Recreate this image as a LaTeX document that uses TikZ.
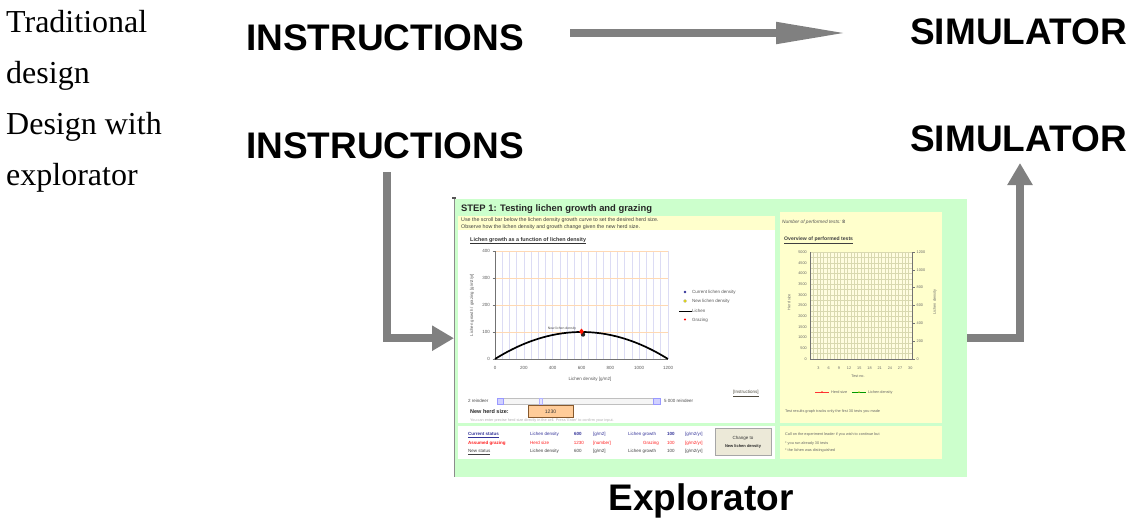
\documentclass[tikz,border=0pt]{standalone}
\usepackage{fontspec}
\setmainfont{Liberation Serif}
\newfontfamily\arial{Liberation Sans}
\usetikzlibrary{arrows.meta}
\definecolor{arrowgray}{HTML}{808080}
\definecolor{scrgreen}{HTML}{CCFFCC}
\definecolor{scryellow}{HTML}{FFFFCC}
\definecolor{gridlav}{HTML}{DCDCF4}
\definecolor{gridor}{HTML}{FFD9B3}
\definecolor{gridyel}{HTML}{D9D9B0}
\definecolor{stblue}{HTML}{333399}
\definecolor{stred}{HTML}{FF2020}
\definecolor{txtgray}{HTML}{555555}
\definecolor{btnfill}{HTML}{ECE9D8}
\definecolor{herdbox}{HTML}{FFCC99}
\tikzset{
  sidelabel/.style={anchor=base west, inner sep=0pt, font=\fontsize{32}{38}\selectfont},
  biglabel/.style={inner sep=0pt, font=\arial\bfseries\fontsize{37}{44}\selectfont},
  bigarrow/.style={draw=arrowgray, line width=8pt, line join=miter, line cap=butt,
     -{Triangle[length=22pt,width=24pt]}},
  toparrow/.style={draw=arrowgray, line width=8pt, line cap=butt,
     -{Triangle[length=72pt,width=20pt]}},
  ui/.style={inner sep=0pt, anchor=base west, font=\arial\fontsize{4.5}{5}\selectfont},
  uir/.style={inner sep=0pt, anchor=base east, font=\arial\fontsize{4.5}{5}\selectfont},
  uic/.style={inner sep=0pt, anchor=base, font=\arial\fontsize{4.5}{5}\selectfont},
  uis/.style={inner sep=0pt, anchor=base west, font=\arial\fontsize{3.8}{4.5}\selectfont},
  uisr/.style={inner sep=0pt, anchor=base east, font=\arial\fontsize{3.8}{4.5}\selectfont},
  uisc/.style={inner sep=0pt, anchor=base, font=\arial\fontsize{3.8}{4.5}\selectfont},
}
\begin{document}
\begin{tikzpicture}[x=1pt,y=-1pt]
\useasboundingbox (0,0) rectangle (1136,520);

% ---- left captions
\node[sidelabel] (cap1) at (6,32) {Traditional};
\node[sidelabel] (cap2) at (6,83) {design};
\node[sidelabel] (cap3) at (6,134) {Design with};
\node[sidelabel] (cap4) at (6,185) {explorator};

% ---- big labels
\node[biglabel, anchor=base west] (instr1) at (246,50) {INSTRUCTIONS};
\node[biglabel, anchor=base west] (instr2) at (246,158) {INSTRUCTIONS};
\node[biglabel, anchor=base east] (sim1) at (1127,44) {SIMULATOR};
\node[biglabel, anchor=base east] (sim2) at (1127,151) {SIMULATOR};
\node[biglabel, anchor=base] (expl) at (701,510) {Explorator};

% ---- screenshot frame
\node[inner sep=0pt, minimum width=513pt, minimum height=278pt, anchor=north west,
      fill=scrgreen] (shot) at (454,199) {};
\fill[txtgray] (452,196.5) rectangle (456,199);
\draw[draw=black!45, line width=0.8pt] (454.4,199) -- (454.4,477);

% ---- arrows
\coordinate (t1) at (570,33);
\coordinate (t2) at (848,33);
\draw[toparrow] (t1) -- (t2);
\coordinate (la) at (387,172);
\draw[bigarrow] (la) |- (shot.west);
\coordinate (ua) at (1020,163);
\draw[bigarrow] (shot.east) -| (ua);

% ---- title
\node[inner sep=0pt, anchor=base west, font=\arial\bfseries\fontsize{9.4}{11}\selectfont, text=black!85]
  (title) at (461,211) {STEP 1: Testing lichen growth and grazing};

% yellow instruction band
\fill[scryellow] (458,215.5) rectangle (775,230);
\node[ui, font=\arial\fontsize{5.3}{6}\selectfont, text=black!75] (ins1) at (461,221.5)
  {Use the scroll bar below the lichen density growth curve to set the desired herd size.};
\node[ui, font=\arial\fontsize{5.3}{6}\selectfont, text=black!75] (ins2) at (461,228.3)
  {Observe how the lichen density and growth change given the new herd size.};

% white left panel
\fill[white] (458,230) rectangle (775,423);
\node[ui, font=\arial\bfseries\fontsize{5.4}{6}\selectfont, text=black!80] (ctitle) at (470,241)
  {\underline{Lichen growth as a function of lichen density}};

% plot area left
\foreach \i in {1,...,24} \draw[gridlav, line width=0.6pt] ({495+\i*173/24},251) -- ({495+\i*173/24},359);
\foreach \v in {1,2,3,4} \draw[gridor, line width=0.6pt] (495,{359-27*\v}) -- (668,{359-27*\v});
\draw[black!55, line width=0.5pt] (495,251) -- (495,359) -- (668,359);
\foreach \v in {0,1,2,3,4} {
  \draw[black!55, line width=0.4pt] (492.5,{359-27*\v}) -- (495,{359-27*\v});
  \pgfmathtruncatemacro\lab{\v*100}
  \node[uir, text=black!65] (yl\v) at (490,{359-27*\v+1.6}) {\lab};
}
\foreach \v in {0,...,6} {
  \pgfmathtruncatemacro\lab{\v*200}
  \node[uic, text=black!65] (xl\v) at ({495+\v*173/6},369) {\lab};
}
\node[uic, text=black!65] (xtitle) at (590,380.5) {Lichen density [g/m2]};
\node[inner sep=0pt, rotate=90, font=\arial\fontsize{4.3}{5}\selectfont, text=black!65] (ytitle) at (472,305)
  {Lichen growth / grazing [g/m2/yr]};
\draw[black, line width=1.7pt, domain=0:1, samples=60]
  plot ({495+173*\x}, {359-27*(1-(2*\x-1)^2)});
\fill[black!85] (583,334.5) circle (2.2pt);
\fill[red!85!orange] (581.5,328.5) -- (583.8,331.5) -- (581.5,334.5) -- (579.2,331.5) -- cycle;
\node[uisc, font=\arial\fontsize{3.4}{4}\selectfont, text=black!70] (peak) at (562,329.5) {New lichen density};

% legend left
\fill[stblue] (685,292) circle (1.3pt);
\node[ui, text=black!65] (lg1) at (692,293.5) {Current lichen density};
\filldraw[fill=yellow, draw=black!60, line width=0.3pt] (685,301) circle (1.5pt);
\node[ui, text=black!65] (lg2) at (692,302.5) {New lichen density};
\draw[black, line width=1pt] (679,311) -- (692,311);
\node[ui, text=black!65] (lg3) at (692,312.5) {Lichen};
\fill[red] (685,319.5) circle (1.2pt);
\node[ui, text=black!65] (lg4) at (692,321) {Grazing};

\node[ui, text=black!60!yellow!50!black] (instrlink) at (733,393.5) {\underline{[Instructions]}};

% slider
\node[ui, text=black!70] (sl1) at (468,402.5) {2 reindeer};
\filldraw[fill=black!4, draw=black!25, line width=0.3pt] (497,398.5) rectangle (660,404.5);
\filldraw[fill=blue!18, draw=blue!40, line width=0.3pt] (497,398.5) rectangle (503.5,404.5);
\filldraw[fill=blue!18, draw=blue!40, line width=0.3pt] (653.5,398.5) rectangle (660,404.5);
\filldraw[fill=blue!10, draw=blue!30, line width=0.3pt] (539,398.5) rectangle (542,404.5);
\node[ui, text=black!70] (sl2) at (664,402.5) {5 000 reindeer};

\node[ui, font=\arial\bfseries\fontsize{5.5}{6}\selectfont, text=black!85] (nhs) at (470,413) {New herd size:};
\filldraw[fill=herdbox, draw=brown!70!black, line width=0.5pt] (528,405.5) rectangle (573,417);
\node[uic, font=\arial\fontsize{5}{6}\selectfont, text=black!80] (herdval) at (550.5,413) {1230};
\node[ui, font=\arial\fontsize{3.8}{4.5}\selectfont, text=black!30] (hint) at (470,421.3)
  {You can enter precise herd size directly in the cell. Press 'Enter' to confirm your input.};

% status panel
\fill[white] (458,426) rectangle (775,459);
\node[ui, font=\arial\bfseries\fontsize{4.5}{5}\selectfont, text=stblue] (s11) at (468,435.5) {\underline{Current status}};
\node[ui, text=stblue] (s12) at (530,435.5) {Lichen density};
\node[ui, font=\arial\bfseries\fontsize{4.5}{5}\selectfont, text=stblue] (s13) at (574,435.5) {600};
\node[ui, text=stblue] (s14) at (593,435.5) {[g/m2]};
\node[ui, text=stblue] (s15) at (628,435.5) {Lichen growth};
\node[ui, font=\arial\bfseries\fontsize{4.5}{5}\selectfont, text=stblue] (s16) at (667,435.5) {100};
\node[ui, text=stblue] (s17) at (685,435.5) {[g/m2/yr]};

\node[ui, font=\arial\bfseries\fontsize{4.5}{5}\selectfont, text=stred] (s21) at (468,444.5) {Assumed grazing};
\node[ui, text=stred] (s22) at (530,444.5) {Herd size};
\node[uir, text=stred] (s23) at (584,444.5) {1230};
\node[ui, text=stred] (s24) at (593,444.5) {[number]};
\node[uir, text=stred] (s25) at (659,444.5) {Grazing};
\node[ui, text=stred] (s26) at (667,444.5) {100};
\node[ui, text=stred] (s27) at (685,444.5) {[g/m2/yr]};

\node[ui, text=black!75] (s31) at (468,452.5) {\underline{New status}};
\node[ui, text=black!75] (s32) at (530,452.5) {Lichen density};
\node[ui, text=black!75] (s33) at (574,452.5) {600};
\node[ui, text=black!75] (s34) at (593,452.5) {[g/m2]};
\node[ui, text=black!75] (s35) at (628,452.5) {Lichen growth};
\node[ui, text=black!75] (s36) at (667,452.5) {100};
\node[ui, text=black!75] (s37) at (685,452.5) {[g/m2/yr]};

\filldraw[fill=btnfill, draw=black!35, line width=0.4pt] (715,428.5) rectangle (771,455.5);
\node[uic, text=black!80] (btn1) at (743,439) {Change to};
\node[uic, font=\arial\bfseries\fontsize{4}{5}\selectfont, text=black!85] (btn2) at (743,447) {New lichen density};

% right panel
\fill[scryellow] (780,212) rectangle (942,423);
\node[ui, font=\arial\itshape\fontsize{4.8}{5.5}\selectfont, text=txtgray] (ntests) at (782,223.5)
  {Number of performed tests: \textbf{\upshape 8}};
\node[ui, font=\arial\bfseries\fontsize{5.1}{6}\selectfont, text=black!75] (otitle) at (784,240.5)
  {\underline{Overview of performed tests}};

% right plot
\fill[yellow!12] (810,252) rectangle (912,359);
\foreach \i in {0,...,30} \draw[gridyel, line width=0.35pt] ({810+\i*3.4},252) -- ({810+\i*3.4},359);
\foreach \i in {0,...,20} \draw[gridyel, line width=0.35pt] (810,{359-\i*5.35}) -- (912,{359-\i*5.35});
\draw[black!55, line width=0.5pt] (810,252) -- (810,359) -- (912,359) -- (912,252);
\foreach \i in {0,...,10} {
  \pgfmathtruncatemacro\lab{\i*500}
  \node[uisr, text=black!60] (ry\i) at (807,{359-\i*10.7+1.3}) {\lab};
}
\foreach \i in {0,...,6} {
  \pgfmathtruncatemacro\lab{\i*200}
  \draw[black!55, line width=0.5pt] (912,{359-\i*107/6}) -- (915,{359-\i*107/6});
  \node[uis, text=black!60] (rr\i) at (916.5,{359-\i*107/6+1.3}) {\lab};
}
\foreach \k in {3,6,...,30} \node[uisc, text=black!60] (rx\k) at ({810+\k*3.4-1.7},369) {\k};
\node[uisc, text=black!60] (rxt) at (858,377) {Test no.};
\node[inner sep=0pt, rotate=90, font=\arial\fontsize{3.8}{4.5}\selectfont, text=black!60] (rhs) at (789,302) {Herd size};
\node[inner sep=0pt, rotate=90, font=\arial\fontsize{3.8}{4.5}\selectfont, text=black!60] (rld) at (935,302) {Lichen density};

% right legend
\draw[red!80, line width=0.5pt] (815,392) -- (829,392);
\fill[red!85] (822,392) circle (0.9pt);
\node[uis, text=black!60] (rl1) at (831,393.3) {Herd size};
\draw[green!60!black, line width=0.5pt] (852,392) -- (866,392);
\fill[yellow!70!green] (859,392) circle (0.9pt);
\node[uis, text=black!60] (rl2) at (868,393.3) {Lichen density};
\node[uis, text=black!60] (rnote) at (785,412) {Test results graph tracks only the first 30 tests you made};

% right bottom panel
\fill[scryellow] (780,426) rectangle (942,459);
\node[uis, text=black!60] (cb1) at (785,435.5) {Call on the experiment leader if you wish to continue but};
\node[uis, text=black!60] (cb2) at (785,444) {* you run already 30 tests};
\node[uis, text=black!60] (cb3) at (785,451.5) {* the lichen was distinguished};
\end{tikzpicture}
\end{document}
